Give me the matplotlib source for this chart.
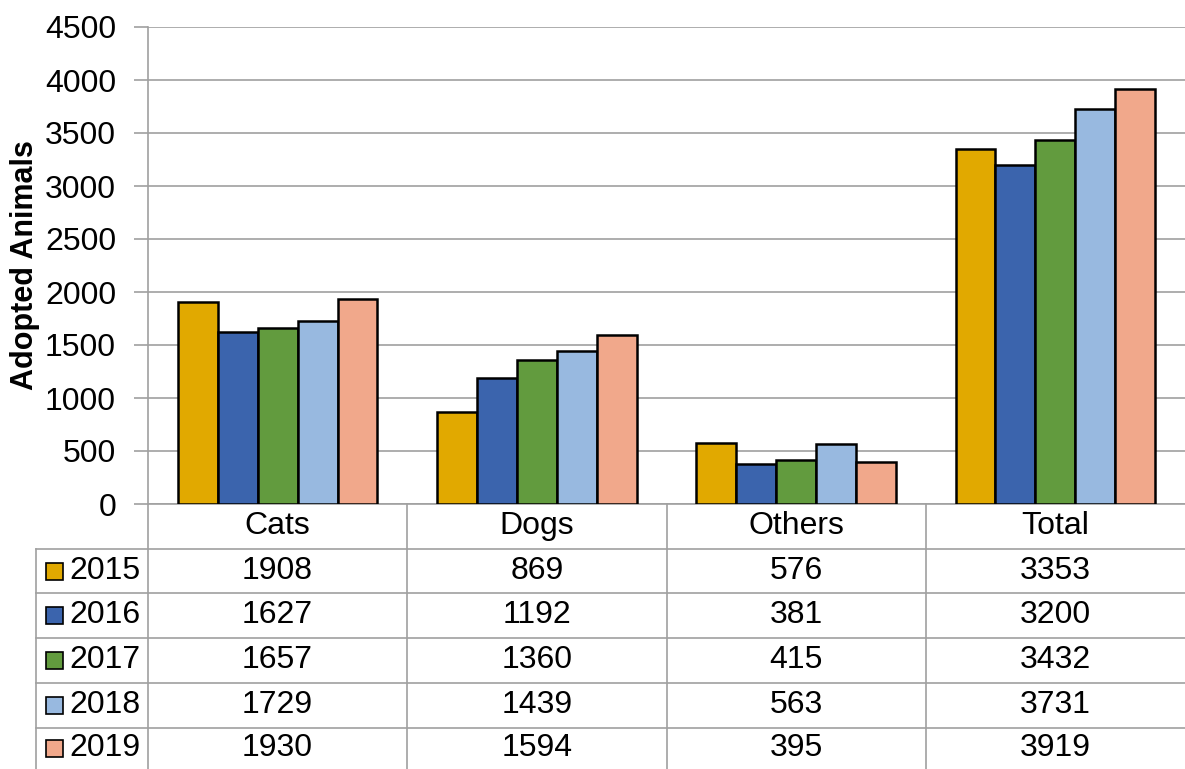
import numpy as np
import matplotlib
matplotlib.use('Agg')
from matplotlib import pyplot as plt
from matplotlib.transforms import blended_transform_factory
from matplotlib.patches import Rectangle

categories = ['Cats', 'Dogs', 'Others', 'Total']
years = ['2015', '2016', '2017', '2018', '2019']
values = {
    '2015': [1908, 869, 576, 3353],
    '2016': [1627, 1192, 381, 3200],
    '2017': [1657, 1360, 415, 3432],
    '2018': [1729, 1439, 563, 3731],
    '2019': [1930, 1594, 395, 3919],
}
colors = ['#E1A900', '#3B64AD', '#629B3E', '#98B9E0', '#F1A88B']
yticks = np.arange(0, 4501, 500)

plt.rcParams['font.family'] = ['Liberation Sans', 'DejaVu Sans']

W, H = 1185, 769
fig = plt.figure(figsize=(W / 100, H / 100), dpi=100)
ax = fig.add_axes([148 / W, (H - 504) / H, (W - 148) / W, (504 - 27) / H])

grid_color = '#A0A0A0'
fs = 23
bar_w = 0.154
x = np.arange(len(categories))
for i, year in enumerate(years):
    ax.bar(x + (i - 2) * bar_w, values[year], width=bar_w, color=colors[i],
           edgecolor='black', linewidth=1.8, zorder=3)

ax.set_xlim(-0.5, len(categories) - 0.5)
ax.set_ylim(0, 4500)
ax.set_yticks(yticks)
ax.set_yticklabels([str(v) for v in yticks], fontsize=fs)
ax.set_xticks([])
ax.yaxis.grid(True, color=grid_color, linewidth=1.2, zorder=0)
ax.tick_params(axis='y', length=10, width=1.2, color=grid_color, pad=13)
for side in ['top', 'right', 'bottom']:
    ax.spines[side].set_visible(False)
ax.spines['left'].set_color(grid_color)
ax.spines['left'].set_linewidth(1.2)
fig.text(25 / W, (H - 265) / H, 'Adopted Animals', rotation=90, ha='center', va='center',
         fontsize=22, fontweight='bold')

# data table below the axis
tr = blended_transform_factory(ax.transData, fig.transFigure)
px = 1 / 259.25  # one pixel in data units along x
left_edge = -0.5 - (148 - 36) * px
right_edge = 3.5
row_lines = [504, 549, 593, 638, 683, 728]
fy = lambda p: (H - p) / H

ax.plot([-0.5, right_edge], [fy(504), fy(504)], transform=tr, color=grid_color,
        linewidth=1.2, clip_on=False)
for p in row_lines[1:]:
    ax.plot([left_edge, right_edge], [fy(p), fy(p)], transform=tr, color=grid_color,
            linewidth=1.2, clip_on=False)
ax.plot([left_edge, left_edge], [fy(549), fy(769)], transform=tr, color=grid_color,
        linewidth=1.2, clip_on=False)
for b in np.arange(-0.5, 3.0, 1.0):
    ax.plot([b, b], [fy(504), fy(769)], transform=tr, color=grid_color,
            linewidth=1.2, clip_on=False)

row_centers = [526, 571, 615, 660, 705, 748]
for j, cat in enumerate(categories):
    ax.text(j, fy(row_centers[0]), cat, transform=tr, ha='center', va='center', fontsize=fs)
for i, year in enumerate(years):
    yc = fy(row_centers[i + 1])
    for j in range(len(categories)):
        ax.text(j, yc, str(values[year][j]), transform=tr, ha='center', va='center', fontsize=fs)
    # legend key
    kx = left_edge + 10 * px
    ks = 17 / H
    ax.add_patch(Rectangle((kx, yc - ks / 2), 17 * px, ks, transform=tr, facecolor=colors[i],
                           edgecolor='black', linewidth=1.2, clip_on=False))
    ax.text(left_edge + 33 * px, yc, year, transform=tr, ha='left', va='center', fontsize=fs)

fig.savefig('out.png', dpi=100)
